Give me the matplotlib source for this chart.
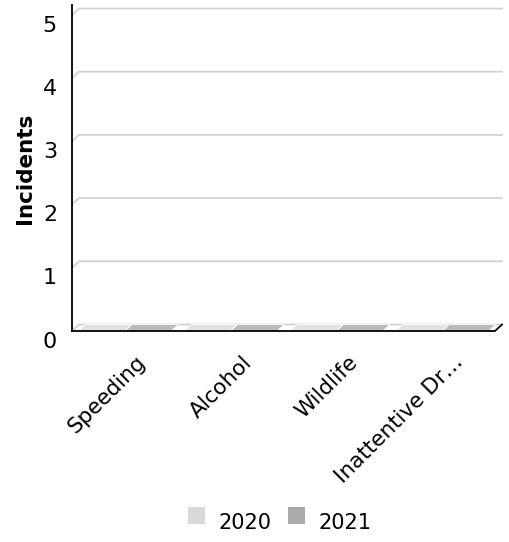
import matplotlib
matplotlib.use("Agg")
import matplotlib.pyplot as plt
from matplotlib.patches import Polygon, Rectangle
from matplotlib.transforms import ScaledTranslation

categories = ["Speeding", "Alcohol", "Wildlife", "Inattentive Dr\u2026"]
series_names = ["2020", "2021"]
values_2020 = [0, 0, 0, 0]
values_2021 = [0, 0, 0, 0]
series_values = [values_2020, values_2021]
y_ticks = [0, 1, 2, 3, 4, 5]
y_label = "Incidents"

colors = ["#d9d9d9", "#aaaaaa"]
top_colors = ["#e2e2e2", "#bbbbbb"]
side_colors = ["#c4c4c4", "#959595"]

plt.rcParams['font.family'] = ['DejaVu Sans']
W, H, DPI = 509, 542, 100
fig = plt.figure(figsize=(W / DPI, H / DPI), dpi=DPI)
fig.patch.set_facecolor("white")

ax_l, ax_r, ax_b, ax_t = 72, 495, 331, 15
ax = fig.add_axes([ax_l / W, (H - ax_b) / H, (ax_r - ax_l) / W, (ax_b - ax_t) / H])
ax.set_xlim(-0.5, len(categories) - 0.5)
ax.set_ylim(0, 5)
ax.axis('off')

px_x = (ax_r - ax_l) / len(categories)
px_y = (ax_b - ax_t) / 5.0
dx = 7 / px_x
dy = 6.5 / px_y
x0a, x1a = -0.5, len(categories) - 0.5

def off(px, py):
    return ax.transData + ScaledTranslation(px / DPI, py / DPI, fig.dpi_scale_trans)

# floor
floor = Polygon([(x0a, 0), (x1a, 0), (x1a + dx, dy), (x0a + dx, dy)], closed=True,
                facecolor="white", edgecolor="none", clip_on=False, zorder=1)
ax.add_patch(floor)

# back wall grid lines
for t in y_ticks:
    ax.plot([x0a, x0a + dx, x1a + dx], [t, t + dy, t + dy], color="#d0d0d0",
            lw=1.2, clip_on=False, zorder=0.5 if t > 0 else 2, solid_joinstyle='miter')

# bars
gap = 0.06
for s, vals in enumerate(series_values):
    for i, v in enumerate(vals):
        if s == 0:
            b0, b1 = i - 0.5 + gap, i
        else:
            b0, b1 = i, i + 0.5 - gap
        if v > 0:
            ax.add_patch(Rectangle((b0, 0), b1 - b0, v, facecolor=colors[s],
                                   edgecolor="white", lw=0.6, clip_on=False, zorder=3))
            ax.add_patch(Polygon([(b1, 0), (b1 + dx, dy), (b1 + dx, v + dy), (b1, v)],
                                 closed=True, facecolor=side_colors[s], edgecolor="white",
                                 lw=0.6, clip_on=False, zorder=3))
        ax.add_patch(Polygon([(b0, v), (b1, v), (b1 + dx, v + dy), (b0 + dx, v + dy)],
                             closed=True, facecolor=top_colors[s], edgecolor="white",
                             lw=0.6, clip_on=False, zorder=3))

# axis lines
ax.plot([x0a, x0a], [0, 5.16], color="black", lw=1.3, clip_on=False, zorder=5)
ax.plot([x0a, x1a, x1a + dx], [0, 0, dy], color="black", lw=1.3, clip_on=False,
        zorder=5, solid_joinstyle='miter')

# y tick labels
for t in y_ticks:
    ax.text(x0a, t, str(t), ha="right", va="center", fontsize=16,
            transform=off(-15, -10.5), clip_on=False)

# x labels
for i, c in enumerate(categories):
    ax.text(i, 0, c, rotation=45, rotation_mode="anchor", ha="right", va="top",
            fontsize=15.5, transform=off(11, -21), clip_on=False)

# y label
fig.text(25 / W, 1 - 168 / H, y_label, rotation=90, ha="center", va="center",
         fontsize=15.5, fontweight="bold")

# legend
sq = 17
leg_x = [188, 288]
for s, name in enumerate(series_names):
    fig.patches.append(Rectangle((leg_x[s] / W, 1 - 524 / H), sq / W, sq / H,
                                 transform=fig.transFigure, facecolor=colors[s],
                                 edgecolor="none"))
    fig.text((leg_x[s] + 30) / W, 1 - 523 / H, name, ha="left", va="center",
             fontsize=15)

fig.savefig("out.png", dpi=DPI)
